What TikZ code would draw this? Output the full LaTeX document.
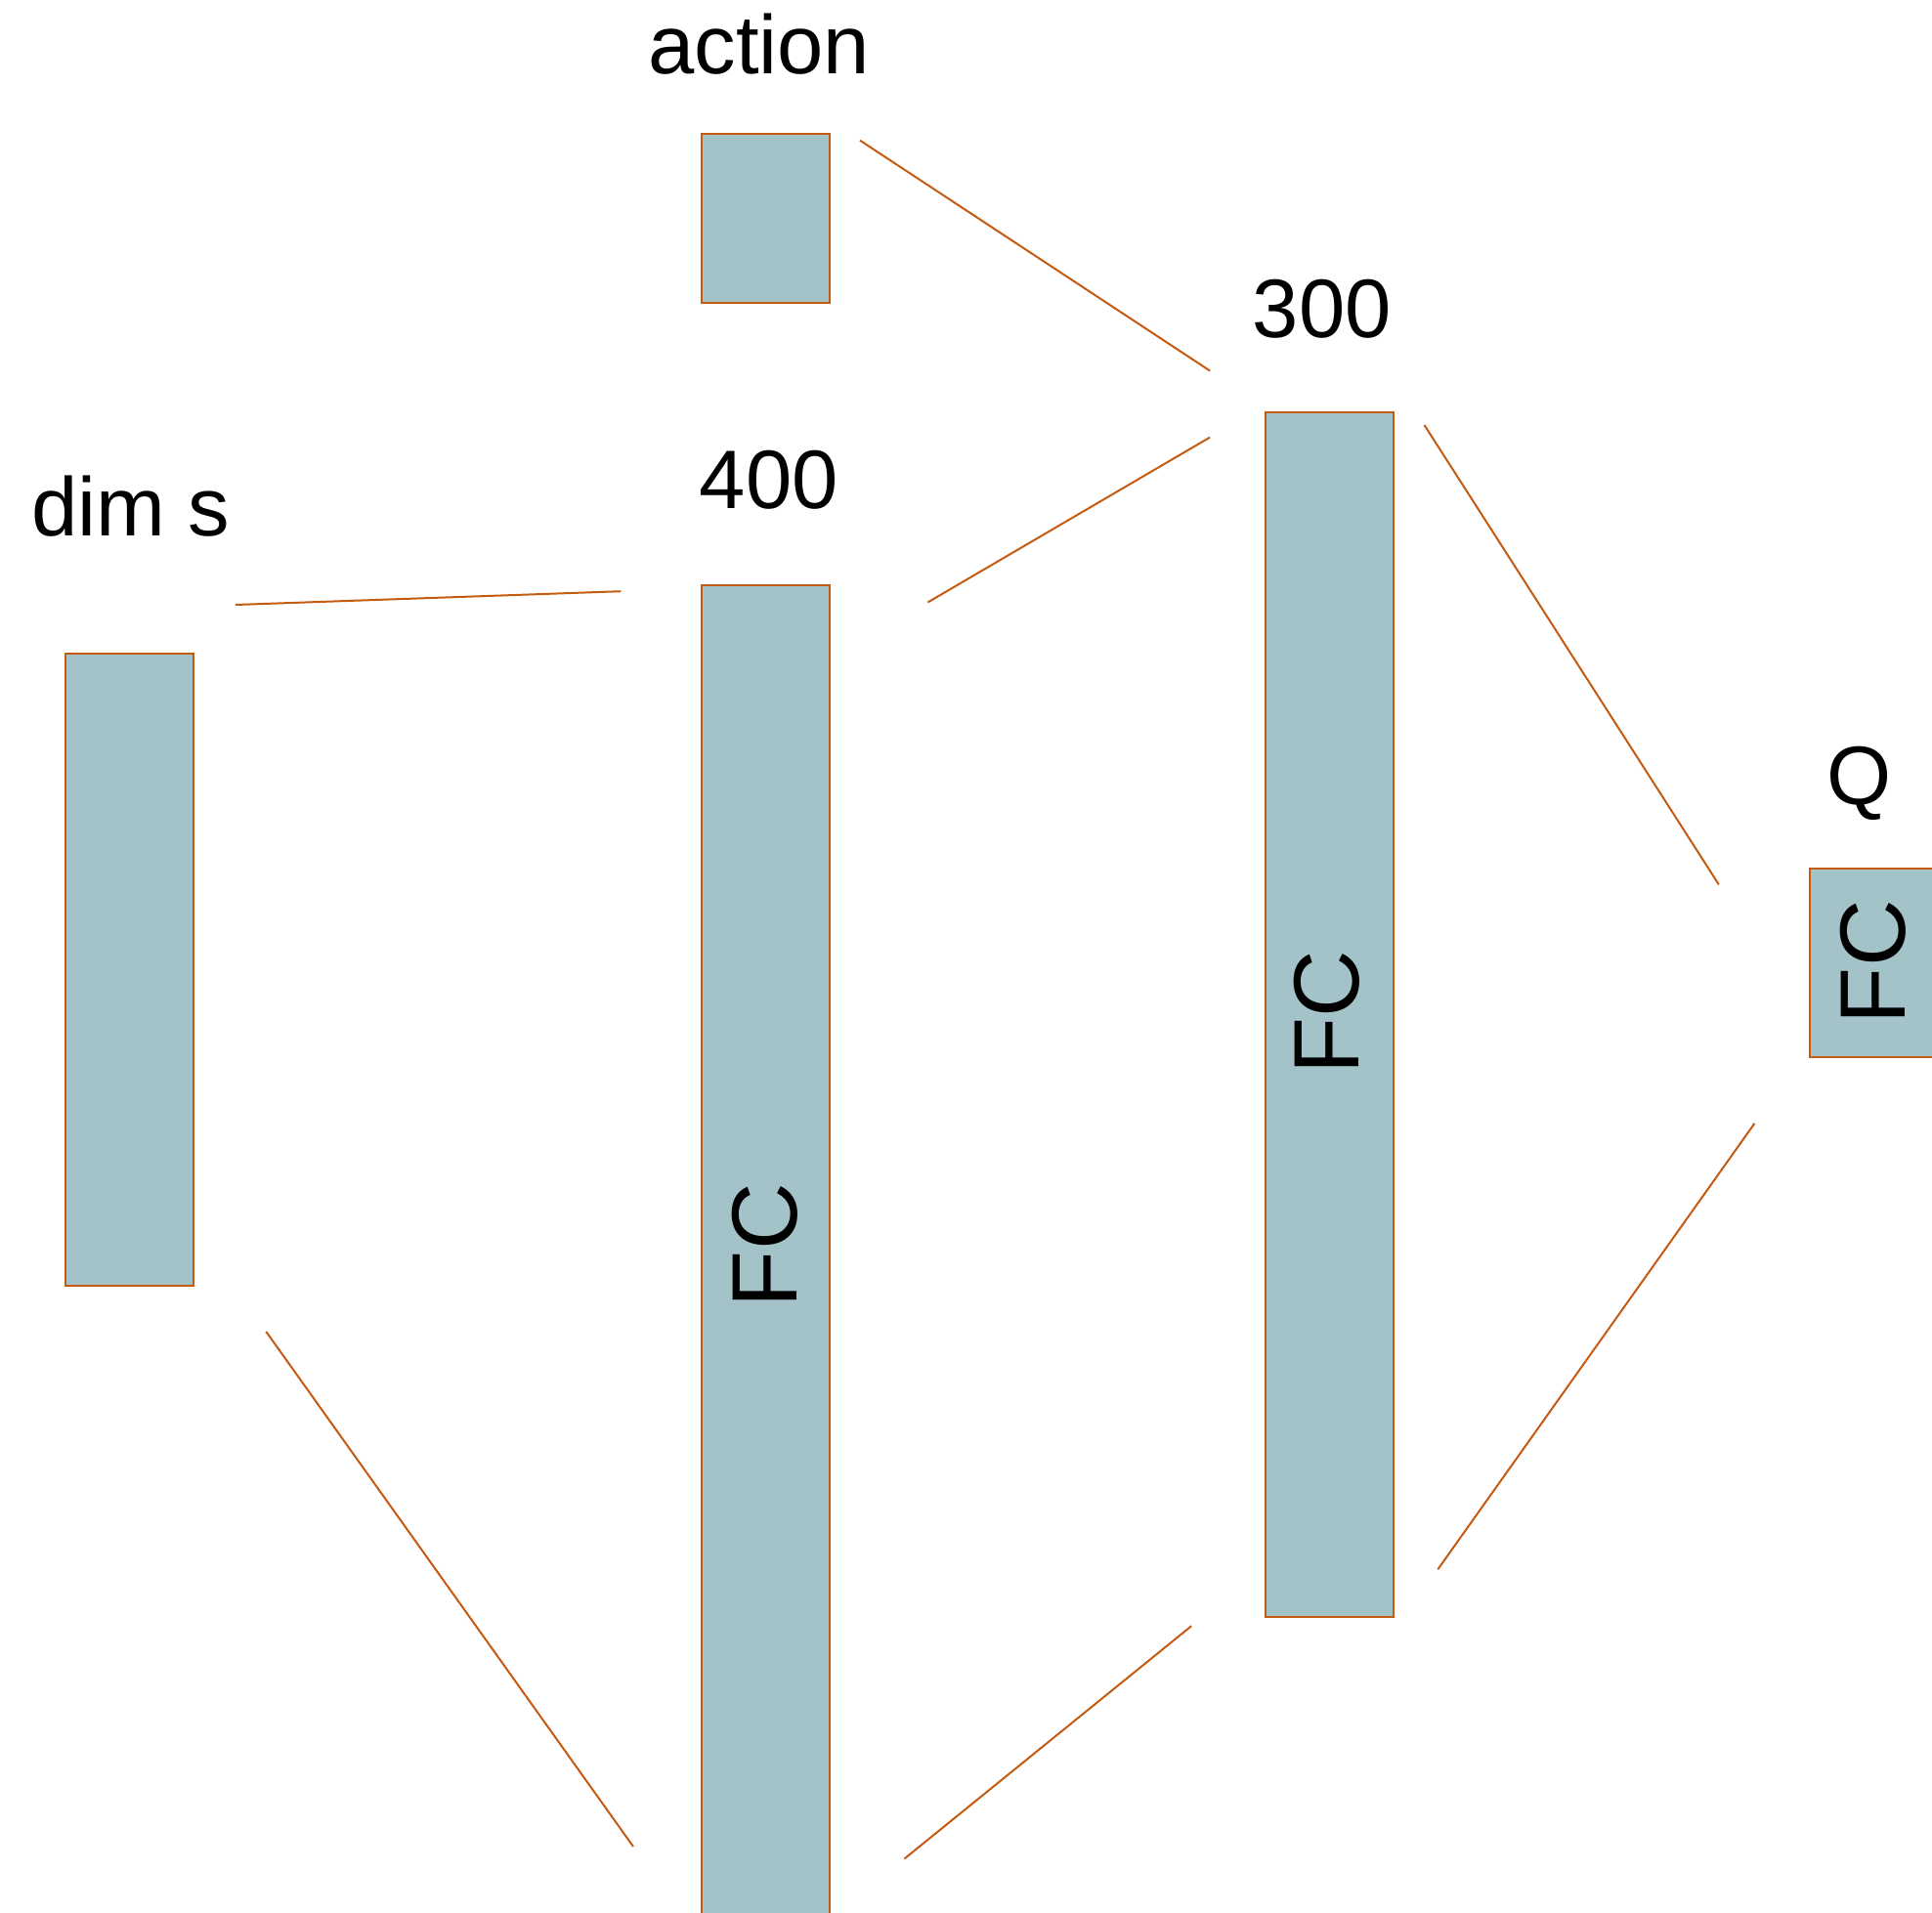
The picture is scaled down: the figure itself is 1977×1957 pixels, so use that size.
\documentclass[tikz,border=0pt]{standalone}
\usepackage{fontspec}
\setmainfont{Liberation Sans}
\definecolor{boxfill}{HTML}{A4C3C8}
\definecolor{edge}{HTML}{C55A11}
\begin{document}
\begin{tikzpicture}[x=1pt,y=-1pt,
  layer/.style={draw=edge,fill=boxfill,line width=2pt,inner sep=0pt,anchor=north west},
  lbl/.style={font=\fontsize{85}{100}\selectfont,anchor=base,inner sep=0pt},
  fc/.style={font=\fontsize{95}{110}\selectfont,rotate=90,inner sep=0pt},
  conn/.style={draw=edge,line width=2pt}]
\clip (0,0) rectangle (1977,1957);
\useasboundingbox (0,0) rectangle (1977,1957);
% layers
\node[layer,minimum width=131pt,minimum height=647pt] (dims) at (65.6,668.2) {};
\node[layer,minimum width=131pt,minimum height=173pt] (act) at (717.4,136.2) {};
\node[layer,minimum width=131pt,minimum height=1370pt] (l400) at (717.4,597.6) {};
\node[layer,minimum width=131pt,minimum height=1233pt] (l300) at (1293.6,421.1) {};
\node[layer,minimum width=131pt,minimum height=193pt] (q) at (1850.9,887.6) {};
% labels
\node[lbl] (tact) at (776.7,75.6) {action};
\node[lbl] (t400) at (786.8,520.7) {400};
\node[lbl] (tdims) at (133.6,548.5) {dim s};
\node[lbl] (t300) at (1352.8,345.5) {300};
\node[lbl] (tq) at (1902.6,823.3) {Q};
\node[fc] (fc1) at (783,1274.7) {FC};
\node[fc] (fc2) at (1358,1036.4) {FC};
\node[fc] (fc3) at (1916.5,984.7) {FC};
% connector end points
\coordinate (a1) at (240.8,619);
\coordinate (a2) at (635.4,605.2);
\coordinate (b1) at (272.3,1362.9);
\coordinate (b2) at (648,1890);
\coordinate (c1) at (880,143.7);
\coordinate (c2) at (1238.1,379.5);
\coordinate (d1) at (949.4,616.5);
\coordinate (d2) at (1238.1,447.6);
\coordinate (e1) at (925.4,1902.5);
\coordinate (e2) at (1219.2,1664.2);
\coordinate (f1) at (1457.5,435);
\coordinate (f2) at (1758.8,905.3);
\coordinate (g1) at (1471.3,1606.3);
\coordinate (g2) at (1795.4,1149.8);
\draw[conn] (a1) -- (a2);
\draw[conn] (b1) -- (b2);
\draw[conn] (c1) -- (c2);
\draw[conn] (d1) -- (d2);
\draw[conn] (e1) -- (e2);
\draw[conn] (f1) -- (f2);
\draw[conn] (g1) -- (g2);
\end{tikzpicture}
\end{document}
